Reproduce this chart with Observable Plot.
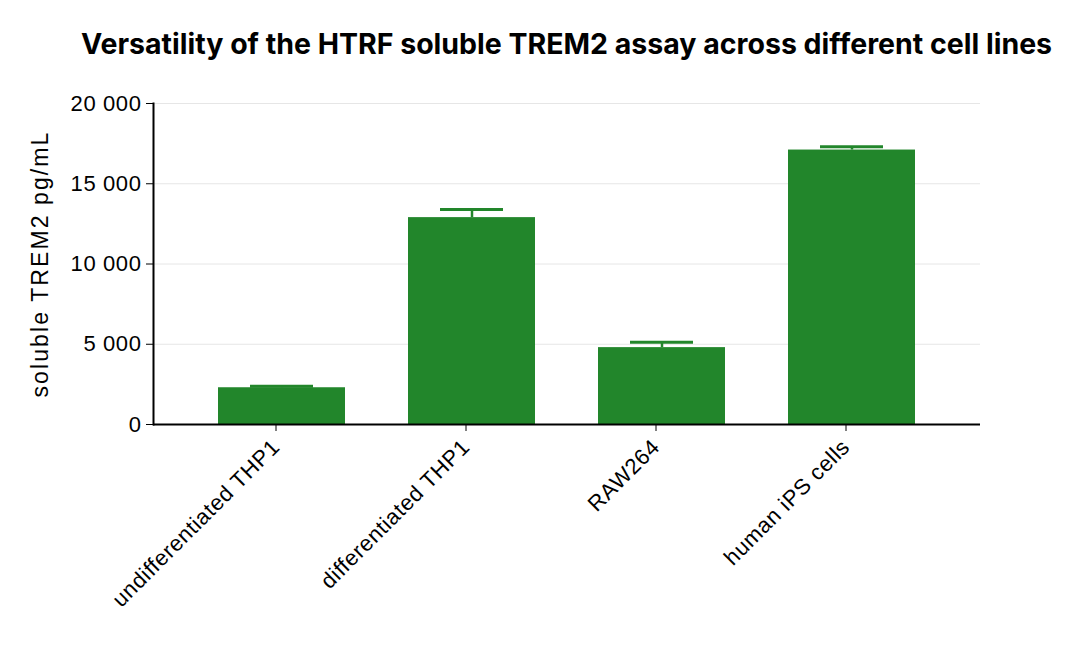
<!DOCTYPE html>
<html>
<head>
<meta charset="utf-8">
<script src="https://cdn.jsdelivr.net/npm/d3@7"></script>
<script src="https://cdn.jsdelivr.net/npm/@observablehq/plot@0.6"></script>
<style>
  html, body { margin: 0; padding: 0; background: #fff; }
  #wrap { width: 1080px; height: 647px; position: relative; overflow: hidden; }
  #title {
    position: absolute; left: 0; top: 0; width: 1080px; height: 80px;
    box-sizing: border-box; padding-left: 53px;
    display: flex; align-items: center; justify-content: center;
    font-family: "Inter", sans-serif; font-weight: 700; font-size: 28.5px; color: #000;
    padding-top: 6px; white-space: nowrap;
  }
  #chart { position: absolute; left: 0; top: 80px; }
  #chart svg text { letter-spacing: 0.6px; }
  #chart svg g[aria-label="y-axis label"] text { letter-spacing: 2.1px; }
</style>
</head>
<body>
<div id="wrap">
  <div id="title">Versatility of the HTRF soluble TREM2 assay across different cell lines</div>
  <div id="chart"></div>
</div>
<script>
const categories = ["undifferentiated THP1", "differentiated THP1", "RAW264", "human iPS cells"];
const values = [2290, 12890, 4790, 17100];
const errors = [90, 510, 340, 210];
const yTicks = [0, 5000, 10000, 15000, 20000];
const yTickLabels = ["0", "5 000", "10 000", "15 000", "20 000"];
const yLabel = "soluble TREM2 pg/mL";

const data = categories.map((c, i) => ({cat: c, v: values[i], e: errors[i]}));
const green = "#22862b";

const plot = Plot.plot({
  width: 1080,
  height: 567,
  marginTop: 23,
  marginLeft: 153,
  marginRight: 100,
  marginBottom: 223,
  style: {fontFamily: "Liberation Sans, Arial, sans-serif", fontSize: "22px", color: "#000", background: "#fff"},
  x: {domain: categories, padding: 0.33, label: null},
  y: {domain: [0, 20000], ticks: yTicks, label: null},
  marks: [
    Plot.gridY(yTicks.filter(t => t > 0), {stroke: "#e6e6e6", strokeOpacity: 1, strokeWidth: 1}),
    Plot.barY(data, {x: "cat", y: "v", fill: green}),
    Plot.ruleX(data, {x: "cat", y1: "v", y2: d => d.v + d.e, stroke: green, strokeWidth: 2.5}),
    Plot.tickY(data, {x: "cat", y: d => d.v + d.e, stroke: green, strokeWidth: 3, insetLeft: 32, insetRight: 32}),
    Plot.axisY({
      ticks: yTicks,
      tickFormat: d => yTickLabels[yTicks.indexOf(d)],
      tickSize: 7, tickPadding: 5, fontSize: 22,
      label: null
    }),
    Plot.axisY({
      ticks: [], label: yLabel, labelAnchor: "center", labelArrow: "none",
      labelOffset: 122, fontSize: 23
    }),
    Plot.axisX({
      tickRotate: -45, tickSize: 7, tickPadding: 12, dx: -6, label: null,
      fontSize: 22
    }),
    Plot.ruleY([0], {stroke: "#000", strokeWidth: 2}),
    Plot.frame({anchor: "left", stroke: "#000", strokeWidth: 2})
  ]
});
document.getElementById("chart").appendChild(plot);
</script>
</body>
</html>
